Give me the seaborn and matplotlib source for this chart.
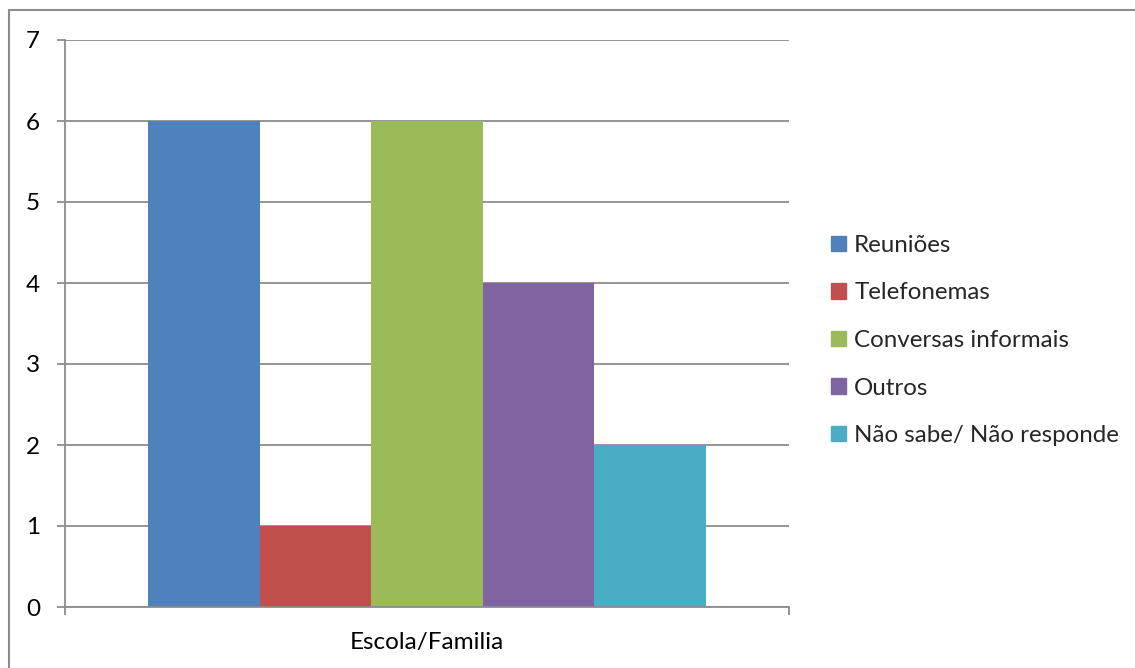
import matplotlib
matplotlib.use("Agg")
import matplotlib.pyplot as plt
import seaborn as sns
import pandas as pd
from matplotlib.lines import Line2D

categories = ["Escola/Familia"]
series = ["Reuniões", "Telefonemas", "Conversas informais", "Outros", "Não sabe/ Não responde"]
values = [6, 1, 6, 4, 2]
colors = ["#4F81BD", "#C0504D", "#9BBB59", "#8064A2", "#4BACC6"]
yticks = [0, 1, 2, 3, 4, 5, 6, 7]

df = pd.DataFrame({"cat": categories * len(series), "serie": series, "valor": values})

sns.set_theme(style="white")
plt.rcParams["font.family"] = ["Lato", "DejaVu Sans"]

fig = plt.figure(figsize=(11.35, 6.68), dpi=100)
ax = fig.add_axes([65/1135, 1 - 607/668, (789 - 65)/1135, (607 - 40)/668])

sns.barplot(data=df, x="cat", y="valor", hue="serie", hue_order=series,
            palette=colors, width=0.77, saturation=1, ax=ax, legend=True,
            linewidth=0, zorder=3)

ax.set_xlim(-0.5, 0.5)
ax.set_ylim(0, 7)
ax.set_yticks(yticks)
ax.set_yticklabels([str(t) for t in yticks])
ax.set_xlabel("")
ax.set_ylabel("")

grid_c = "#8C8C8C"
ax.yaxis.grid(True, color=grid_c, linewidth=1.3, zorder=0)
ax.set_axisbelow(True)
for s in ["top", "right"]:
    ax.spines[s].set_visible(False)
for s in ["left", "bottom"]:
    ax.spines[s].set_color(grid_c)
    ax.spines[s].set_linewidth(1.3)
    ax.spines[s].set_zorder(4)

ax.tick_params(axis="y", which="major", length=6, width=1.3, color=grid_c,
               left=True, labelsize=17.5, pad=12, labelcolor="#000000")
ax.tick_params(axis="x", which="major", length=0, labelsize=17.5, pad=18, labelcolor="#000000")
ax.set_xticks([-0.5, 0.5], minor=True)
ax.tick_params(axis="x", which="minor", length=6, width=1.3, color=grid_c, bottom=True)

handles = [plt.Rectangle((0, 0), 1, 1, color=c) for c in colors]
ax.legend(handles, series, loc="center left", bbox_to_anchor=(1.045, 0.47),
          frameon=False, fontsize=17.4, handlelength=0.6, handleheight=0.6,
          handletextpad=0.35, labelspacing=1.1, borderaxespad=0)

fig.add_artist(Line2D([9/1135, 9/1135], [0, 1 - 10/668], transform=fig.transFigure,
                      color="#8C8C8C", linewidth=1.5))
fig.add_artist(Line2D([9/1135, 1], [1 - 10/668, 1 - 10/668], transform=fig.transFigure,
                      color="#8C8C8C", linewidth=1.5))

fig.savefig("out.png", dpi=100, facecolor="white")
